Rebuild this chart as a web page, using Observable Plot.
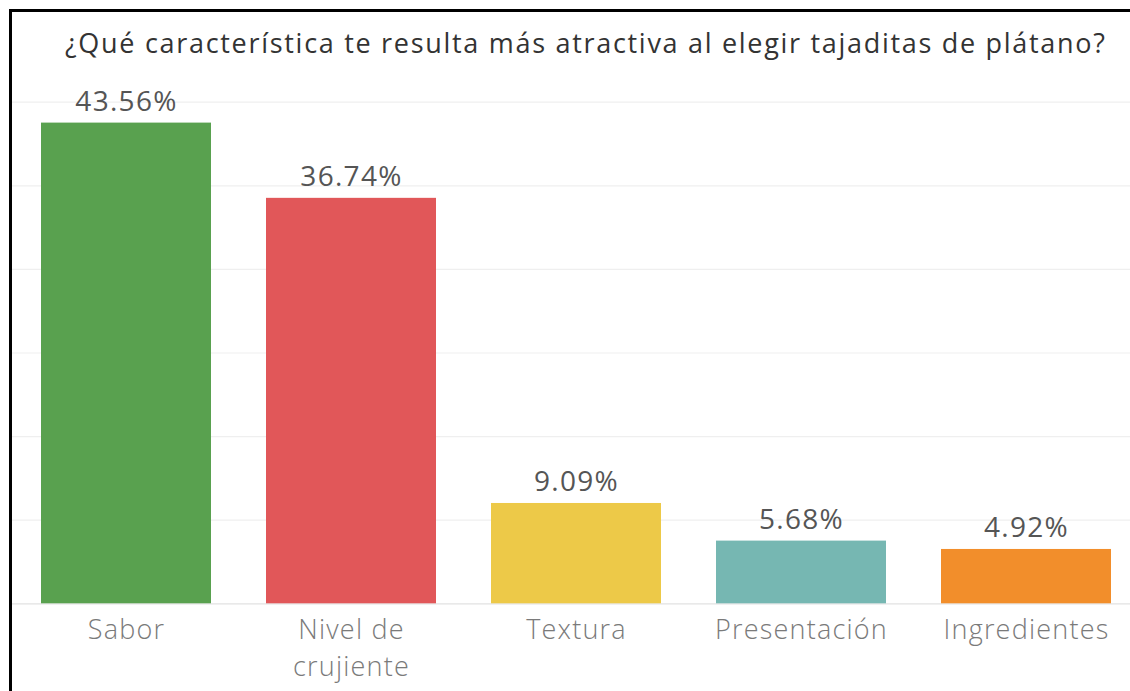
<!DOCTYPE html>
<html>
<head>
<meta charset="utf-8">
<script src="https://cdn.jsdelivr.net/npm/d3@7"></script>
<script src="https://cdn.jsdelivr.net/npm/@observablehq/plot@0.6"></script>
<style>
  html, body { margin: 0; padding: 0; background: #fff; }
  #wrap { position: relative; width: 1130px; height: 691px; overflow: hidden; background: #fff; }
  #frame { position: absolute; left: 9px; top: 9px; width: 1300px; height: 900px; border: 3px solid #000; box-sizing: border-box; }
  #title { position: absolute; left: 65px; top: 28px; line-height: 30px; font-family: "Open Sans", sans-serif; font-size: 27px; font-weight: 500; letter-spacing: 1.7px; color: #333; white-space: nowrap; z-index: 2; }
  #chart { position: absolute; left: 0; top: 0; }
  .vlabel text { letter-spacing: 1.3px; }
  g[aria-label="x-axis tick label"] text { letter-spacing: 1.2px; }
</style>
</head>
<body>
<div id="wrap">
  <div id="chart"></div>
  <div id="frame"></div>
  <div id="title">¿Qué característica te resulta más atractiva al elegir tajaditas de plátano?</div>
</div>
<script>
const categories = ["Sabor", "Nivel de crujiente", "Textura", "Presentación", "Ingredientes"];
const tickLabels = ["Sabor", "Nivel de\ncrujiente", "Textura", "Presentación", "Ingredientes"];
const counts = [115, 97, 24, 15, 13];
const colors = ["#59A14F", "#E15759", "#EDC948", "#76B7B2", "#F28E2B"];
const gridTicks = [0, 20, 40, 60, 80, 100, 120];

const total = d3.sum(counts);
const data = categories.map((c, i) => ({
  category: c,
  count: counts[i],
  label: (counts[i] / total * 100).toFixed(2) + "%"
}));

const chart = Plot.plot({
  width: 1130,
  height: 691,
  marginTop: 101.7,
  marginBottom: 87.7,
  marginLeft: 12,
  marginRight: 0,
  style: { fontFamily: "Open Sans, sans-serif", background: "transparent" },
  x: { domain: categories, range: [12, 1139.5], paddingInner: 0.246, paddingOuter: 0.123, label: null },
  y: { domain: [0, 120], label: null, axis: null },
  color: { domain: categories, range: colors },
  marks: [
    Plot.ruleY(gridTicks.filter(d => d > 0), { stroke: "#efefef", strokeWidth: 1.2 }),
    Plot.ruleY([0], { stroke: "#e2e2e2", strokeWidth: 1.2 }),
    Plot.barY(data, { x: "category", y: "count", fill: "category" }),
    Plot.text(data, { x: "category", y: "count", text: "label", dy: -12, lineAnchor: "bottom", fontSize: 28, fill: "#555", className: "vlabel" }),
    Plot.axisX({
      tickSize: 0,
      tickPadding: 9,
      fontSize: 27,
      fill: "#7a7a7a",
      fontWeight: 300,
      lineHeight: 1.37,
      tickFormat: (d) => tickLabels[categories.indexOf(d)]
    })
  ]
});
document.getElementById("chart").appendChild(chart);
</script>
</body>
</html>
